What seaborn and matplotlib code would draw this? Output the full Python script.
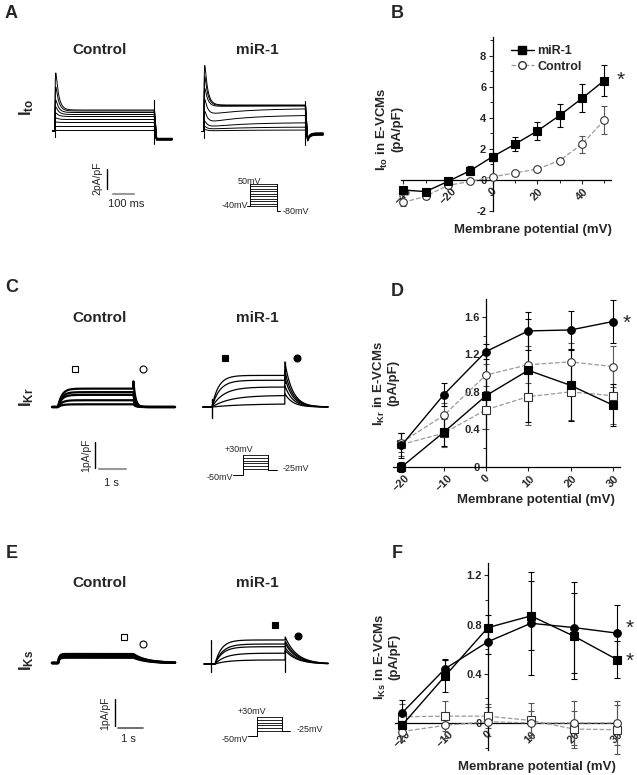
import numpy as np
import pandas as pd
import matplotlib
matplotlib.use("Agg")
import matplotlib.pyplot as plt
import seaborn as sns
from matplotlib.lines import Line2D
from matplotlib.ticker import MultipleLocator, FuncFormatter

# ==============================
# Data
# ==============================
# B: Ito I-V (pA/pF)
ito_mv = [-40, -30, -20, -10, 0, 10, 20, 30, 40, 50]
ito_mir = [-0.65, -0.75, -0.1, 0.6, 1.5, 2.3, 3.15, 4.15, 5.25, 6.4]
ito_mir_err = [0.2, 0.15, 0.15, 0.3, 0.25, 0.45, 0.6, 0.75, 0.9, 1.0]
ito_ctrl = [-1.45, -1.05, -0.35, -0.1, 0.2, 0.45, 0.7, 1.25, 2.3, 3.85]
ito_ctrl_err = [0.25, 0.15, 0.15, 0.1, 0.1, 0.1, 0.15, 0.15, 0.55, 0.9]

# D: IKr I-V (step = squares, tail = circles)
ikr_mv = [-20, -10, 0, 10, 20, 30]
ikr_mir_tail = [0.23, 0.77, 1.23, 1.45, 1.46, 1.55]
ikr_mir_tail_err = [0.13, 0.12, 0.08, 0.2, 0.2, 0.23]
ikr_ctrl_tail = [0.26, 0.55, 0.98, 1.09, 1.12, 1.07]
ikr_ctrl_tail_err = [0.1, 0.13, 0.12, 0.2, 0.2, 0.22]
ikr_mir_step = [0.0, 0.37, 0.76, 1.03, 0.87, 0.66]
ikr_mir_step_err = [0.05, 0.15, 0.2, 0.55, 0.38, 0.22]
ikr_ctrl_step = [0.24, 0.36, 0.61, 0.75, 0.8, 0.76]
ikr_ctrl_step_err = [0.12, 0.15, 0.2, 0.3, 0.3, 0.3]

# F: IKs I-V
iks_mv = [-20, -10, 0, 10, 20, 30]
iks_mir_tail = [0.08, 0.44, 0.66, 0.81, 0.775, 0.73]
iks_mir_tail_err = [0.11, 0.08, 0.1, 0.42, 0.37, 0.23]
iks_mir_step = [-0.02, 0.38, 0.775, 0.87, 0.705, 0.515]
iks_mir_step_err = [0.08, 0.13, 0.1, 0.28, 0.35, 0.15]
iks_ctrl_step = [0.05, 0.055, 0.055, 0.02, -0.05, -0.055]
iks_ctrl_step_err = [0.1, 0.12, 0.1, 0.14, 0.15, 0.2]
iks_ctrl_tail = [-0.07, -0.02, 0.01, 0.0, 0.0, 0.0]
iks_ctrl_tail_err = [0.08, 0.1, 0.12, 0.1, 0.18, 0.18]

# A: Ito current traces (pA/pF): level at pulse start, steady level, peak
ito_ctrl_start = [0.1, 0.5, 0.85, 1.15, 1.45, 1.65, 1.85, 2.0, 2.1]
ito_ctrl_ss = [0.1, 0.5, 0.85, 1.15, 1.45, 1.65, 1.85, 2.0, 2.1]
ito_ctrl_peak = [0.1, 0.5, 0.9, 1.3, 1.8, 2.4, 3.1, 4.4, 5.8]
ito_mir_start = [0.05, 0.2, 0.4, 0.8, 1.6, 2.5, 2.6, 2.65]
ito_mir_ss = [0.15, 0.45, 0.9, 1.65, 2.3, 2.55, 2.6, 2.65]
ito_mir_peak = [0.2, 0.5, 1.0, 2.0, 3.2, 4.3, 5.5, 6.6]

# C: IKr traces (pA/pF)
ikr_ctrl_lv = [0.1, 0.25, 0.45, 0.55, 0.68]
ikr_ctrl_tau = [0.15, 0.15, 0.15, 0.15, 0.15]
ikr_ctrl_tailpk = [0.1, 0.25, 0.45, 0.55, 0.95]
ikr_mir_lv = [0.12, 0.43, 0.74, 0.99, 1.17]
ikr_mir_tau = [1.2, 0.7, 0.45, 0.3, 0.25]
ikr_mir_tailpk = [0.5, 0.8, 1.1, 1.35, 1.67]

# E: IKs traces (pA/pF)
iks_ctrl_lv = [0.2, 0.25, 0.3, 0.33]
iks_ctrl_tau = [0.05, 0.05, 0.05, 0.05]
iks_ctrl_tailpk = [0.2, 0.25, 0.3, 0.33]
iks_mir_lv = [0.15, 0.4, 0.64, 0.74, 0.89]
iks_mir_tau = [0.5, 0.4, 0.3, 0.3, 0.25]
iks_mir_tailpk = [0.5, 0.6, 0.75, 0.85, 1.0]

# voltage protocols (mV)
ito_steps = list(range(-40, 51, 10))
ikr_steps = list(range(-20, 31, 10))
iks_steps = list(range(-20, 31, 10))

# ==============================
# Figure setup
# ==============================
sns.set_theme(style="ticks")
plt.rcParams["font.family"] = ["Liberation Sans", "DejaVu Sans"]
plt.rcParams["mathtext.fontset"] = "custom"
plt.rcParams["mathtext.rm"] = "Liberation Sans"
plt.rcParams["mathtext.bf"] = "Liberation Sans:bold"
plt.rcParams["mathtext.it"] = "Liberation Sans:italic"

W, H = 637, 775
fig = plt.figure(figsize=(W / 100, H / 100), dpi=100)
fig.patch.set_facecolor("white")

ov = fig.add_axes([0, 0, 1, 1])
ov.set_xlim(0, W)
ov.set_ylim(H, 0)
ov.axis("off")


def ftext(x, y, s, **kw):
    fig.text(x / W, 1 - y / H, s, **kw)


def px_axes(x0, y0, x1, y1):
    ax = fig.add_axes([x0 / W, 1 - y1 / H, (x1 - x0) / W, (y1 - y0) / H])
    ax.patch.set_alpha(0)
    return ax


# ==============================
# Trace panels (A, C, E)
# ==============================
def trace_axes(box, t0_px, base_px, px_t, px_i):
    x0, y0, x1, y1 = box
    ax = px_axes(x0, y0, x1, y1)
    ax.set_xlim((x0 - t0_px) / px_t, (x1 - t0_px) / px_t)
    ax.set_ylim((base_px - y1) / px_i, (base_px - y0) / px_i)
    ax.axis("off")
    return ax


def ito_traces(ax, start, ss, peak, T, tail_len, mir):
    t = np.linspace(0, T, 700)
    rise = np.exp(-t / 14) - np.exp(-t / 1.5)
    rise = rise / rise.max()
    tt = np.linspace(T, T + tail_len, 80)
    for i, (s0, s, p) in enumerate(zip(start, ss, peak)):
        cur = s + (s0 - s) * np.exp(-t / 180) + (p - s0) * rise
        ax.plot(np.r_[-12, 0, t], np.r_[0, 0, cur], color="black", lw=0.7)
        if mir:
            tail = -0.75 * np.exp(-(tt - T - 8) / 10).clip(max=1) - 0.15 - 0.03 * i
        else:
            tail = np.full_like(tt, -0.9 + 0.02 * i)
        ax.plot(np.r_[T, tt[10:]], np.r_[cur[-1], tail[10:]], color="black", lw=0.9)
    ax.plot([0, 0], [-0.6, 0.3], color="black", lw=0.8)
    ax.plot([T, T], [-1.3, 3.1], color="black", lw=0.8)


def k_traces(ax, lv, tau, tailpk, tail_tau, T, t_end, pre, lw):
    t = np.linspace(0, T, 500)
    tt = np.linspace(T, t_end, 300)
    for a, tu, tp in zip(lv, tau, tailpk):
        cur = a * (1 - np.exp(-t / tu))
        tail = tp * np.exp(-(tt - T) / tail_tau)
        ax.plot(np.r_[-pre, 0, t, tt], np.r_[0, 0, cur, tail], color="black", lw=lw)


# A
axA1 = trace_axes((45, 55, 185, 150), 55, 131, 0.207, 10)
ito_traces(axA1, ito_ctrl_start, ito_ctrl_ss, ito_ctrl_peak, 480, 85, False)
axA2 = trace_axes((195, 55, 335, 150), 204, 131.5, 0.207, 10)
ito_traces(axA2, ito_mir_start, ito_mir_ss, ito_mir_peak, 490, 85, True)

# C
axC1 = trace_axes((45, 360, 185, 430), 58, 407, 26, 27)
k_traces(axC1, ikr_ctrl_lv, ikr_ctrl_tau, ikr_ctrl_tailpk, 0.08, 2.9, 4.5, 0.23, 1.6)
axC2 = trace_axes((195, 340, 335, 430), 212, 407, 26, 27)
k_traces(axC2, ikr_mir_lv, ikr_mir_tau, ikr_mir_tailpk, 0.3, 2.8, 4.46, 0.35, 0.9)
axC2.plot([0, 0], [-0.4, 0.3], color="black", lw=1.0)
axC2.plot([2.8, 2.8], [0.9, 1.67], color="black", lw=0.9)

# E
axE1 = trace_axes((45, 620, 185, 690), 58, 663, 26, 27)
k_traces(axE1, iks_ctrl_lv, iks_ctrl_tau, iks_ctrl_tailpk, 0.5, 2.9, 4.5, 0.23, 1.8)
axE2 = trace_axes((195, 610, 335, 690), 215, 664, 26, 27)
k_traces(axE2, iks_mir_lv, iks_mir_tau, iks_mir_tailpk, 0.45, 2.7, 4.35, 0.42, 0.9)
axE2.plot([-0.15, -0.15], [-0.3, 0.9], color="black", lw=0.9)
axE2.plot([2.7, 2.7], [-0.3, 0.8], color="black", lw=0.9)

# scale bars
ov.plot([107, 107], [169, 189], color="black", lw=1)
ov.plot([113, 134], [194, 194], color="#999999", lw=1.5)
ftext(97, 178, "2pA/pF", rotation=90, ha="center", va="center", fontsize=7.5)
ftext(126, 204, "100 ms", ha="center", va="center", fontsize=8)

ov.plot([95, 95], [442, 468], color="black", lw=1)
ov.plot([99, 126], [469, 469], color="#999999", lw=1.5)
ftext(86, 455, "1pA/pF", rotation=90, ha="center", va="center", fontsize=7.5)
ftext(111, 483, "1 s", ha="center", va="center", fontsize=8)

ov.plot([115, 115], [699, 726], color="black", lw=1)
ov.plot([118, 143], [728, 728], color="#555555", lw=1.2)
ftext(105, 713, "1pA/pF", rotation=90, ha="center", va="center", fontsize=7.5)
ftext(128, 739, "1 s", ha="center", va="center", fontsize=8)


# voltage protocols
def protocol(steps, x0, x1, ytop, ybot, hold, ret, pre, post):
    lv = np.interp(steps, [min(steps), max(steps)], [ybot, ytop])
    for y in lv:
        ov.plot([x0, x1], [y, y], color="black", lw=0.6)
    ov.plot([x0 - pre, x0, x0], [hold, hold, ytop], color="black", lw=0.7)
    ov.plot([x1, x1, x1 + post], [ytop, ret, ret], color="black", lw=0.7)


protocol(ito_steps, 250, 277, 184, 206, 206, 211, 3, 3)
ftext(249, 181, "50mV", ha="center", va="center", fontsize=6.5)
ftext(248, 206, "-40mV", ha="right", va="center", fontsize=6.5)
ftext(283, 212, "-80mV", ha="left", va="center", fontsize=6.5)

protocol(ikr_steps, 243, 268, 455, 469, 475, 470, 10, 9)
ftext(239, 449, "+30mV", ha="center", va="center", fontsize=6.5)
ftext(233, 477, "-50mV", ha="right", va="center", fontsize=6.5)
ftext(283, 469, "-25mV", ha="left", va="center", fontsize=6.5)

protocol(iks_steps, 257, 282, 717, 731, 736, 731, 9, 8)
ftext(252, 711, "+30mV", ha="center", va="center", fontsize=6.5)
ftext(248, 740, "-50mV", ha="right", va="center", fontsize=6.5)
ftext(297, 730, "-25mV", ha="left", va="center", fontsize=6.5)

# symbols over traces
sym = dict(color="black", ms=5, mew=0.8, ls="none")
ov.plot([75], [369], marker="s", mfc="white", **sym)
ov.plot([143], [369], marker="o", mfc="white", **sym)
ov.plot([225], [358], marker="s", mfc="black", **sym)
ov.plot([297], [358], marker="o", mfc="black", **sym)
ov.plot([124], [637], marker="s", mfc="white", **sym)
ov.plot([143], [644], marker="o", mfc="white", **sym)
ov.plot([275], [625], marker="s", mfc="black", **sym)
ov.plot([298], [636], marker="o", mfc="black", **sym)

# titles and labels of the trace panels
for y in [50, 318, 583]:
    ftext(100, y, "Control", ha="center", va="center", fontsize=11, fontweight="bold")
    ftext(257, y, "miR-1", ha="center", va="center", fontsize=11, fontweight="bold")
ftext(27, 107, r"$\mathbf{I_{to}}$", rotation=90, ha="center", va="center", fontsize=12)
ftext(27, 397, r"$\mathbf{I_{Kr}}$", rotation=90, ha="center", va="center", fontsize=12)
ftext(27, 660, r"$\mathbf{I_{Ks}}$", rotation=90, ha="center", va="center", fontsize=12)

for x, y, s in [(11, 13, "A"), (397, 14, "B"), (12, 288, "C"), (397, 291, "D"),
                (12, 553, "E"), (397, 553, "F")]:
    ftext(x, y, s, ha="center", va="center", fontsize=13, fontweight="bold")


# ==============================
# I-V panels (B, D, F)
# ==============================
def iv_axes(box, xlim, ylim, xmaj, xmin, ymaj, ymin):
    x0, y0, x1, y1 = box
    ax = px_axes(x0, y0, x1, y1)
    ax.set_xlim(xlim)
    ax.set_ylim(ylim)
    ax.spines["left"].set_position(("data", 0))
    ax.spines["bottom"].set_position(("data", 0))
    ax.spines["top"].set_visible(False)
    ax.spines["right"].set_visible(False)
    for sp in ["left", "bottom"]:
        ax.spines[sp].set_linewidth(0.9)
        ax.spines[sp].set_color("black")
    ax.xaxis.set_major_locator(MultipleLocator(xmaj))
    ax.xaxis.set_minor_locator(MultipleLocator(xmin))
    ax.yaxis.set_major_locator(MultipleLocator(ymaj))
    ax.yaxis.set_minor_locator(MultipleLocator(ymin))
    ax.yaxis.set_major_formatter(FuncFormatter(lambda v, p: f"{v:g}"))
    ax.tick_params(which="major", direction="out", length=3, width=0.8, labelsize=8, pad=1.5)
    ax.tick_params(which="minor", direction="out", length=2, width=0.7)
    return ax


def series(ax, x, y, err, marker, filled):
    line_c = "black" if filled else "#9a9a9a"
    err_c = "black" if filled else "#555555"
    ax.errorbar(x, y, yerr=err, fmt="none", ecolor=err_c, elinewidth=0.8,
                capsize=2.2, capthick=0.8, clip_on=False, zorder=2)
    df = pd.DataFrame({"mV": x, "I": y})
    sns.lineplot(data=df, x="mV", y="I", ax=ax, color=line_c,
                 linestyle="-" if filled else "--", lw=1.0 if filled else 0.9,
                 marker=marker, markersize=5.5,
                 markerfacecolor="black" if filled else "white",
                 markeredgecolor="black" if filled else "#333333",
                 markeredgewidth=0.8, clip_on=False, zorder=3)


def finish(ax, ylab, ylab_x, xlab_y):
    ax.set_ylabel(ylab, fontsize=9.5, fontweight="bold", linespacing=1.1)
    ax.yaxis.set_label_coords(ylab_x, 0.5)
    ax.set_xlabel("Membrane potential (mV)", fontsize=9.5, fontweight="bold")
    ax.xaxis.set_label_coords(0.63, xlab_y)
    for lbl in ax.get_xticklabels():
        lbl.set_rotation(45)
        lbl.set_ha("center")
        lbl.set_va("top")
        lbl.set_fontweight("bold")
    for lbl in ax.get_yticklabels():
        lbl.set_fontweight("bold")


# B
axB = iv_axes((401, 37, 611, 211), (-41, 53), (-2, 9.2), 20, 10, 2, 1)
series(axB, ito_mv, ito_ctrl, ito_ctrl_err, "o", False)
series(axB, ito_mv, ito_mir, ito_mir_err, "s", True)
finish(axB, "$\\mathbf{I_{to}}$ in E-VCMs\n(pA/pF)", 0.01, -0.075)
axB.yaxis.set_label_coords(0.01, 0.47)
handles = [Line2D([], [], color="black", marker="s", ms=5.5, lw=1),
           Line2D([], [], color="#9a9a9a", ls="--", marker="o", mfc="white", mec="#333333", ms=5.5, lw=0.9)]
axB.legend(handles, ["miR-1", "Control"], loc="upper left", bbox_to_anchor=(0.5, 0.98),
           frameon=False, prop={"weight": "bold", "size": 9}, handlelength=1.8,
           handletextpad=0.3, borderaxespad=0, labelspacing=0.25)
axB.text(57.5, 6.4, "*", fontsize=15, ha="center", va="center")

# D
axD = iv_axes((393, 299, 620, 467), (-22, 31.7), (0, 1.79), 10, 10, 0.4, 0.2)
series(axD, ikr_mv, ikr_ctrl_step, ikr_ctrl_step_err, "s", False)
series(axD, ikr_mv, ikr_ctrl_tail, ikr_ctrl_tail_err, "o", False)
series(axD, ikr_mv, ikr_mir_step, ikr_mir_step_err, "s", True)
series(axD, ikr_mv, ikr_mir_tail, ikr_mir_tail_err, "o", True)
finish(axD, "$\\mathbf{I_{Kr}}$ in E-VCMs\n(pA/pF)", 0.03, -0.16)
axD.text(33.3, 1.53, "*", fontsize=15, ha="center", va="center")

# F
axF = iv_axes((395, 563, 620, 750), (-21.6, 30.7), (-0.22, 1.3), 10, 10, 0.4, 0.2)
series(axF, iks_mv, iks_ctrl_step, iks_ctrl_step_err, "s", False)
series(axF, iks_mv, iks_ctrl_tail, iks_ctrl_tail_err, "o", False)
series(axF, iks_mv, iks_mir_step, iks_mir_step_err, "s", True)
series(axF, iks_mv, iks_mir_tail, iks_mir_tail_err, "o", True)
finish(axF, "$\\mathbf{I_{Ks}}$ in E-VCMs\n(pA/pF)", 0.025, -0.06)
axF.text(32.9, 0.77, "*", fontsize=15, ha="center", va="center")
axF.text(32.9, 0.50, "*", fontsize=15, ha="center", va="center")

fig.savefig("out.png", dpi=100, facecolor="white")
